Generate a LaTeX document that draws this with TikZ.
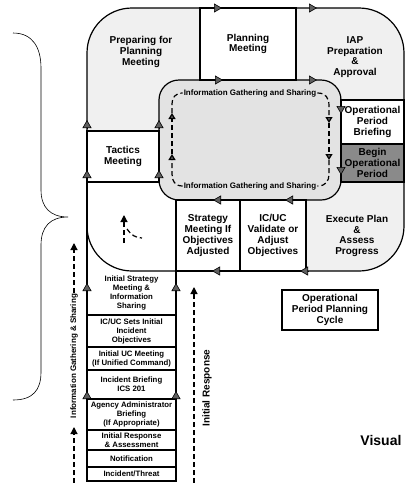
\documentclass[tikz,border=0pt]{standalone}
\usepackage{fontspec}
\setmainfont{Liberation Sans}
\usetikzlibrary{arrows.meta}

\definecolor{bowlfill}{HTML}{F0F0F0}
\definecolor{corefill}{HTML}{E3E3E3}
\definecolor{beginfill}{HTML}{8A8A8A}
\definecolor{tipfill}{HTML}{5F5F5F}

\begin{document}
\begin{tikzpicture}[
    x=1pt, y=-1pt,
    >=Latex,
    stage/.style={
        draw, line width=1.5pt, fill=white, inner sep=0pt,
        align=center, font=\fontsize{10}{10.8}\selectfont\bfseries
    },
    early/.style={
        stage, minimum width=89, font=\fontsize{7.8}{9}\selectfont\bfseries
    },
    zonetext/.style={align=center, font=\fontsize{10}{10.8}\selectfont\bfseries},
    infotext/.style={inner sep=1pt, font=\fontsize{8}{8}\selectfont\bfseries},
    flowtip/.style={line width=0.6pt, -{Triangle[width=9pt,length=8pt,fill=tipfill]}},
    infoflow/.style={dash pattern=on 5pt off 3pt, line width=1.2pt},
    infotip/.style={-{Triangle[width=7pt,length=6pt,fill=tipfill]}},
    outtip/.style={-{Triangle[width=7pt,length=7pt]}}
]

\useasboundingbox (0,0) rectangle (406,483);

% -------------------------
% Planning cycle (the bowl)
% -------------------------
\fill[bowlfill, rounded corners=45] (87,8) rectangle (404,271);
\fill[white] (87,182) rectangle (176,271);
\draw[line width=1.2pt, rounded corners=45] (87,8) rectangle (404,271);

% inner information loop
\draw[line width=1.2pt, fill=corefill, rounded corners=20] (159,80) rectangle (341,200);

% corner texts
\node[zonetext] (prep) at (141,52) {Preparing for\\Planning\\Meeting};
\node[zonetext] (iap) at (355,57) {IAP\\Preparation\\\&\\Approval};
\node[zonetext] (execute) at (357,236) {Execute Plan\\\&\\Assess\\Progress};

% boxed stages
\node[stage, minimum width=96, minimum height=72] (planning) at (248,44) {Planning\\Meeting};
\node[stage, minimum width=72, minimum height=51] (tactics) at (123,156.5) {Tactics\\Meeting};
\node[stage, minimum width=63, minimum height=44] (briefing) at (372.5,122) {Operational\\Period\\Briefing};
\node[stage, minimum width=63, minimum height=38, fill=beginfill] (begin) at (372.5,163) {Begin\\Operational\\Period};
\node[stage, minimum width=64, minimum height=71] (strategy) at (208,235.5) {Strategy\\Meeting If\\Objectives\\Adjusted};
\node[stage, minimum width=66, minimum height=71] (validate) at (273,235.5) {IC/UC\\Validate or\\Adjust\\Objectives};

% -------------------------
% Initial response (the stem)
% -------------------------
\draw[line width=1.5pt] (87,182) -- (87,481) -- (176,481) -- (176,200);
\node[early, draw=none, fill=none] (sharingmeet) at (131.5,293) {Initial Strategy\\Meeting \&\\Information\\Sharing};
\node[early, minimum height=32] (setobj) at (131.5,331) {IC/UC Sets Initial\\Incident\\Objectives};
\node[early, minimum height=23] (ucmeet) at (131.5,358.5) {Initial UC Meeting\\(If Unified Command)};
\node[early, minimum height=29] (ics) at (131.5,384.5) {Incident Briefing\\ICS 201};
\node[early, minimum height=31] (agency) at (131.5,414.5) {Agency Administrator\\Briefing\\(If Appropriate)};
\node[early, minimum height=20] (assess) at (131.5,440) {Initial Response\\\& Assessment};
\node[early, minimum height=17] (notify) at (131.5,458.5) {Notification};
\node[early, minimum height=14] (threat) at (131.5,474) {Incident/Threat};

% -------------------------
% Flow markers on the cycle lines
% -------------------------
\draw[flowtip] (214,8) -- (222,8);
\draw[flowtip] (309,8) -- (317,8);
\draw[flowtip] (215,80) -- (223,80);
\draw[flowtip] (309,80) -- (317,80);
\draw[flowtip] (341,106) -- (341,114);
\draw[flowtip] (341,167) -- (341,175);
\draw[flowtip] (221,200) -- (213,200);
\draw[flowtip] (293,200) -- (285,200);
\draw[flowtip] (220,271) -- (212,271);
\draw[flowtip] (308,271) -- (300,271);
\foreach \x in {87,159} {
    \draw[flowtip] (\x,128) -- (\x,120);
    \draw[flowtip] (\x,178) -- (\x,170);
}
\foreach \x in {87,176} {
    \draw[flowtip] (\x,291) -- (\x,283);
    \draw[flowtip] (\x,399) -- (\x,391);
}

% -------------------------
% Information gathering and sharing (dashed)
% -------------------------
\node[infotext] (infotop) at (250,93) {Information Gathering and Sharing};
\node[infotext] (infobot) at (250,186) {Information Gathering and Sharing};

\draw[infoflow, infotip] (infotop.east) .. controls (326,93) and (329,98) .. (329,106) -- (329,123);
\draw[infoflow, infotip] (329,123) -- (329,160);
\draw[infoflow] (329,160) -- (329,174) .. controls (329,181) and (326,186) .. (infobot.east);
\draw[infoflow, infotip] (infobot.west) .. controls (175,186) and (172,181) .. (172,174) -- (172,154);
\draw[infoflow, infotip] (172,154) -- (172,113);
\draw[infoflow] (172,113) -- (172,104) .. controls (172,98) and (175,93) .. (infotop.west);

% turn into the cycle
\draw[infoflow, outtip] (124,243) -- (124,215);
\draw[infoflow] (127,229) .. controls (131,235) and (136,238) .. (142,238);

% side arrows
\node[infotext, rotate=90] (sidesharing) at (74,356) {Information Gathering \& Sharing};
\draw[infoflow, outtip] (74,483) -- (74,427);
\draw[infoflow, outtip] (sidesharing.east) -- (74,243);

\draw[infoflow, outtip] (194,483) -- (194,287);
\node[zonetext, rotate=90] (response) at (207,388) {Initial Response};

% brace over the cycle
\draw[line width=0.6pt] (13,33) .. controls (33,33) and (41,48) .. (41,68) -- (41,190)
    .. controls (41,207) and (50,217) .. (68,217)
    .. controls (50,217) and (41,227) .. (41,245) -- (41,372)
    .. controls (41,390) and (33,400) .. (13,400);

% legend
\node[stage, line width=1.2pt, minimum width=96, minimum height=40] (cycle) at (330,310) {Operational\\Period Planning\\Cycle};
\node[anchor=east, font=\fontsize{14}{14}\selectfont\bfseries] (visual) at (405,440) {Visual};

\end{tikzpicture}
\end{document}
